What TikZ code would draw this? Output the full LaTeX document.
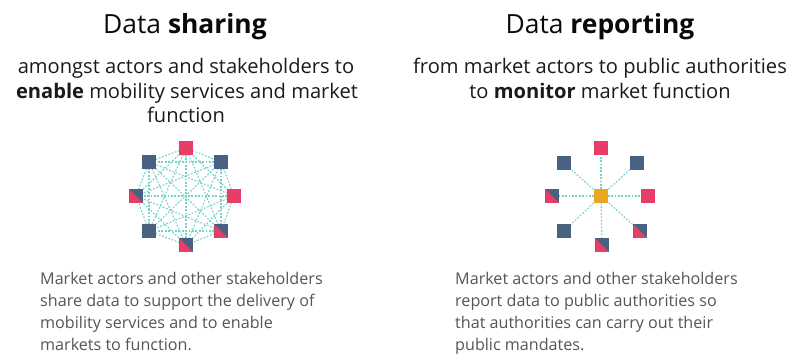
\documentclass[tikz,border=0pt]{standalone}
\usepackage{fontspec}
\setmainfont{Open Sans}
\usetikzlibrary{backgrounds}
\definecolor{pinkc}{HTML}{E83D66}
\definecolor{navyc}{HTML}{4A6282}
\definecolor{orangec}{HTML}{E8A820}
\definecolor{tealc}{HTML}{76D2C9}
\definecolor{headc}{HTML}{0A0A0A}
\definecolor{subc}{HTML}{1A1A1A}
\definecolor{bodyc}{HTML}{555555}
\tikzset{
  sq/.style={minimum size=13.5bp, inner sep=0pt, outer sep=0pt},
  sqpink/.style={sq, fill=pinkc},
  sqnavy/.style={sq, fill=navyc},
  sqorange/.style={sq, fill=orangec},
  sqsplit/.style={sq, fill=navyc, path picture={
      \fill[pinkc] (path picture bounding box.north west) -- (path picture bounding box.south west) -- (path picture bounding box.south east) -- cycle;}},
  link/.style={draw=tealc, line width=1.1bp, dash pattern=on 1.8bp off 1.6bp},
  title/.style={inner sep=0pt, anchor=base, text=headc, font=\fontsize{26.5}{30}\selectfont},
  sub/.style={inner sep=0pt, anchor=base, text=subc, font=\fontsize{20.2}{24.5}\selectfont},
  body/.style={inner sep=0pt, anchor=north west, align=left, text=bodyc, font=\fontsize{16.2}{22}\selectfont},
}
\begin{document}
\begin{tikzpicture}[x=1bp, y=-1bp]
\useasboundingbox (0,0) rectangle (792,361);
% headings
\node[title] (t1) at (185,33) {Data \textbf{sharing}};
\node[title] (t2) at (600,33) {Data \textbf{reporting}};
\node[sub] (s1a) at (186,73) {amongst actors and stakeholders to};
\node[sub] (s1b) at (187,98) {\textbf{enable} mobility services and market};
\node[sub] (s1c) at (186,122) {function};
\node[sub] (s2a) at (600,73) {from market actors to public authorities};
\node[sub] (s2b) at (600,98) {to \textbf{monitor} market function};
% left network
\begin{scope}[shift={(186,196)}]
\node[sqpink]  (L1) at (0,-48) {};
\node[sqnavy]  (L2) at (35,-34) {};
\node[sqpink]  (L3) at (48,0) {};
\node[sqsplit] (L4) at (35,35) {};
\node[sqsplit] (L5) at (0,49) {};
\node[sqnavy]  (L6) at (-37,35) {};
\node[sqsplit] (L7) at (-50,0) {};
\node[sqnavy]  (L8) at (-37,-34) {};
\end{scope}
\begin{pgfonlayer}{background}
\foreach \i in {1,...,7}{
  \pgfmathtruncatemacro\k{\i+1}
  \foreach \j in {\k,...,8}{
    \draw[link] (L\i.center) -- (L\j.center);
  }
}
\end{pgfonlayer}
% right network
\begin{scope}[shift={(601,196)}]
\node[sqorange] (C) at (0,0) {};
\node[sqpink]  (R1) at (0,-48) {};
\node[sqnavy]  (R2) at (36,-33) {};
\node[sqpink]  (R3) at (47,0) {};
\node[sqsplit] (R4) at (39,35) {};
\node[sqsplit] (R5) at (1,49) {};
\node[sqnavy]  (R6) at (-37,35) {};
\node[sqsplit] (R7) at (-49,0) {};
\node[sqnavy]  (R8) at (-37,-33) {};
\end{scope}
\begin{pgfonlayer}{background}
\foreach \i in {1,...,8}{
  \draw[link] (C.center) -- (R\i.center);
}
\end{pgfonlayer}
% body texts
\node[body] (b1) at (40,272) {Market actors and other stakeholders\\share data to support the delivery of\\mobility services and to enable\\markets to function.};
\node[body] (b2) at (455,272) {Market actors and other stakeholders\\report data to public authorities so\\that authorities can carry out their\\public mandates.};
\end{tikzpicture}
\end{document}
